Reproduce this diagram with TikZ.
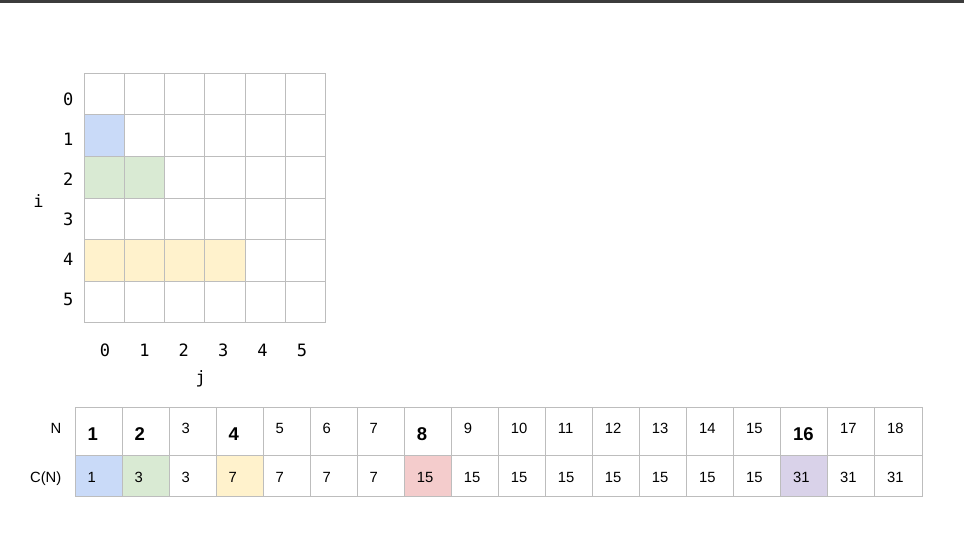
\documentclass[tikz,border=0pt]{standalone}
\usepackage{fontspec}
\setmainfont{Liberation Sans}
\newfontfamily\monofont{DejaVu Sans Mono}
\definecolor{topbar}{HTML}{3C3C3C}
\definecolor{gridgray}{HTML}{BDBDBD}
\definecolor{cblue}{HTML}{C9DAF8}
\definecolor{cgreen}{HTML}{D9EAD3}
\definecolor{cyellow}{HTML}{FFF2CC}
\definecolor{cred}{HTML}{F4CCCC}
\definecolor{cpurple}{HTML}{D9D2E9}
\begin{document}
\begin{tikzpicture}[x=1pt,y=-1pt,
  gcell/.style={draw=gridgray,line width=1pt,minimum width=40.33pt,minimum height=41.57pt,inner sep=0pt,outer sep=0pt},
  tcell/.style={draw=gridgray,line width=1pt,minimum width=47.04pt,inner sep=0pt,outer sep=0pt},
  monolab/.style={font=\monofont\fontsize{17}{17}\selectfont,inner sep=0pt,anchor=base},
  numtxt/.style={font=\fontsize{14.8}{15}\selectfont,inner sep=0pt,anchor=base west},
  boldtxt/.style={font=\bfseries\fontsize{18.5}{19}\selectfont,inner sep=0pt,anchor=base west},
  rowlab/.style={font=\fontsize{14.8}{15}\selectfont,inner sep=0pt,anchor=base east}]
\useasboundingbox (0,0) rectangle (964,543);
\fill[topbar] (0,0) rectangle (964,3);
% grid
\foreach \r in {0,...,5}{\foreach \c in {0,...,5}{
  \def\col{white}
  \ifnum\r=1 \ifnum\c<1 \def\col{cblue}\fi\fi
  \ifnum\r=2 \ifnum\c<2 \def\col{cgreen}\fi\fi
  \ifnum\r=4 \ifnum\c<4 \def\col{cyellow}\fi\fi
  \node[gcell,fill=\col] (g\r\c) at ({84+40.33*(\c+0.5)},{73.3+41.57*(\r+0.5)}) {};
}}
\foreach \r in {0,...,5}{
  \node[monolab] (ri\r) at (68.3,{105.7+40*\r}) {\r};
}
\foreach \c in {0,...,5}{
  \node[monolab] (cj\c) at ({105+39.4*\c},356.7) {\c};
}
\node[monolab] (ilab) at (38.5,207.5) {i};
\node[monolab] (jlab) at (200.8,383.5) {j};
% table
\foreach \k/\v in {1/1,2/3,3/3,4/7,5/7,6/7,7/7,8/15,9/15,10/15,11/15,12/15,13/15,14/15,15/15,16/31,17/31,18/31}{
  \def\col{white}\def\sty{numtxt}\def\base{433.5}
  \ifnum\k=1 \def\col{cblue}\def\sty{boldtxt}\def\base{440}\fi
  \ifnum\k=2 \def\col{cgreen}\def\sty{boldtxt}\def\base{440}\fi
  \ifnum\k=4 \def\col{cyellow}\def\sty{boldtxt}\def\base{440}\fi
  \ifnum\k=8 \def\col{cred}\def\sty{boldtxt}\def\base{440}\fi
  \ifnum\k=16 \def\col{cpurple}\def\sty{boldtxt}\def\base{440}\fi
  \node[tcell,minimum height=47.7pt] (n\k) at ({75.3+47.04*(\k-0.5)},431.15) {};
  \node[tcell,minimum height=41.7pt,fill=\col] (c\k) at ({75.3+47.04*(\k-0.5)},475.85) {};
  \node[\sty] (nt\k) at ({75.3+47.04*(\k-1)+12},\base) {\k};
  \node[numtxt] (ct\k) at ({75.3+47.04*(\k-1)+12},482.7) {\v};
}
\node[rowlab] (nlab) at (61.5,433.5) {N};
\node[rowlab] (clab) at (61.5,482.7) {C(N)};
\end{tikzpicture}
\end{document}
